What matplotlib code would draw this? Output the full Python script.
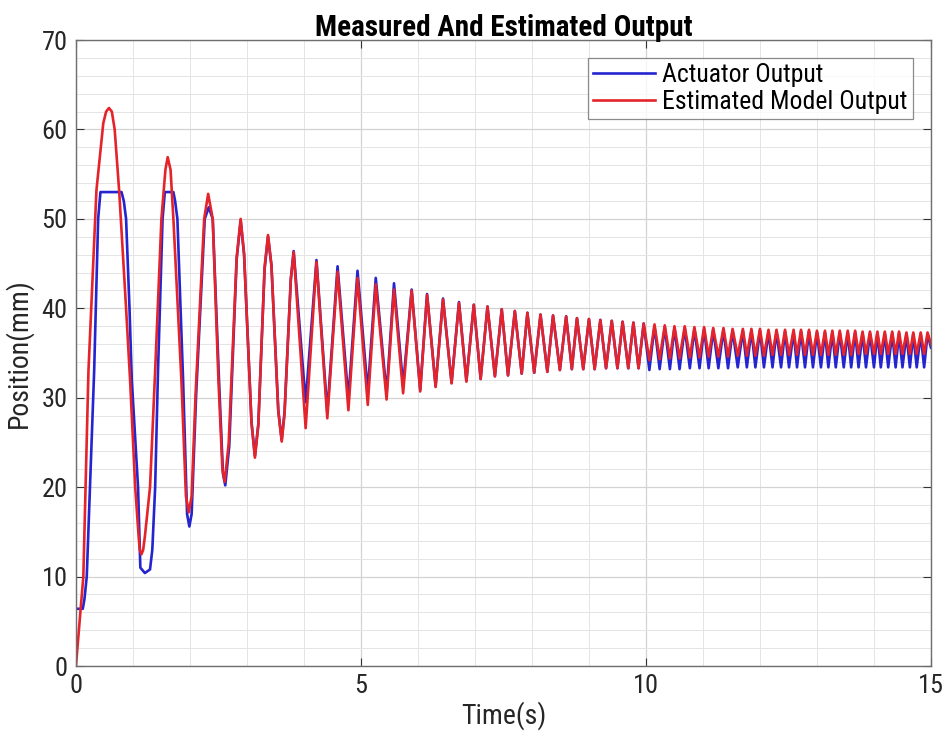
import numpy as np
import matplotlib
matplotlib.use('Agg')
import matplotlib.pyplot as plt
from matplotlib.ticker import MultipleLocator

plt.rcParams['font.family'] = ['Roboto Condensed', 'Liberation Sans', 'DejaVu Sans']

# ===========================[Data]===========================

# first cycles, read point by point (time s, position mm)
red_early_t = [0.00, 0.13, 0.22, 0.36, 0.48, 0.53, 0.58, 0.63, 0.68, 0.76, 0.88, 0.95, 1.04, 1.10,
               1.12, 1.15, 1.18, 1.21, 1.30, 1.39, 1.50, 1.57, 1.61, 1.66, 1.71, 1.85, 1.93, 1.98,
               2.03, 2.10, 2.25, 2.32, 2.40, 2.50, 2.57, 2.61, 2.68, 2.82, 2.89, 2.95, 3.08, 3.14,
               3.20, 3.31, 3.37, 3.43, 3.55, 3.61, 3.66, 3.77, 3.82]
red_early_v = [0.0, 10.0, 33.0, 53.2, 60.7, 62.0, 62.4, 62.0, 60.0, 53.0, 40.0, 32.0, 20.0, 14.5,
               13.0, 12.5, 13.0, 14.5, 20.0, 33.0, 50.0, 55.5, 56.9, 55.5, 50.0, 32.0, 19.0, 17.2,
               19.0, 30.5, 50.0, 52.8, 50.0, 32.0, 22.0, 20.6, 24.9, 45.7, 50.0, 46.1, 27.2, 23.3,
               26.9, 44.6, 48.2, 44.8, 28.5, 25.1, 28.2, 43.2, 46.3]

blue_early_t = [0.00, 0.12, 0.15, 0.19, 0.32, 0.39, 0.43, 0.80, 0.84, 0.88, 0.94, 0.98, 1.09, 1.13,
                1.21, 1.30, 1.34, 1.39, 1.44, 1.52, 1.56, 1.71, 1.74, 1.78, 1.88, 1.95, 1.99, 2.03,
                2.11, 2.26, 2.33, 2.40, 2.51, 2.58, 2.62, 2.69, 2.82, 2.89, 2.95, 3.08, 3.14, 3.20,
                3.31, 3.37, 3.43, 3.55, 3.61, 3.66, 3.77, 3.82]
blue_early_v = [6.4, 6.4, 7.5, 10.0, 33.0, 50.0, 53.0, 53.0, 52.0, 50.0, 40.0, 32.0, 20.0, 11.0,
                10.4, 10.8, 13.0, 20.0, 33.0, 50.0, 53.0, 53.0, 52.0, 50.0, 32.0, 17.0, 15.6, 17.0,
                30.5, 50.0, 51.3, 50.0, 32.0, 21.5, 20.2, 24.6, 45.5, 49.8, 46.0, 27.3, 23.5, 27.1,
                44.4, 48.0, 44.8, 28.6, 25.3, 28.4, 43.3, 46.4]

# turning points from 4.0 s to 8.6 s (trough, peak, trough, ...)
mid_t = [4.03, 4.22, 4.41, 4.59, 4.78, 4.94, 5.12, 5.26, 5.45,
         5.58, 5.74, 5.89, 6.04, 6.16, 6.31, 6.44, 6.59, 6.72, 6.85, 6.98, 7.10, 7.22, 7.35,
         7.47, 7.58, 7.70, 7.82, 7.92, 8.04, 8.15, 8.27, 8.37, 8.49, 8.60]
red_mid = [26.6, 45.2, 27.7, 44.1, 28.6, 43.4, 29.2, 42.7, 29.8,
           42.1, 30.5, 42.0, 30.7, 41.5, 31.2, 41.0, 31.6, 40.6, 31.8, 40.4, 32.1, 40.2, 32.4,
           39.9, 32.5, 39.7, 32.7, 39.5, 32.8, 39.3, 32.9, 39.2, 33.1, 39.1]
blue_mid = [29.5, 45.4, 28.4, 44.7, 29.9, 44.2, 30.7, 43.4, 30.5,
            42.8, 31.4, 42.1, 30.9, 41.6, 31.3, 41.1, 31.7, 40.7, 31.9, 40.4, 32.1, 40.2, 32.4,
            39.9, 32.5, 39.7, 32.7, 39.5, 32.8, 39.3, 32.9, 39.2, 33.1, 39.1]

# turning points from 8.7 s to the end
late_trough_t = [8.70, 8.90, 9.10, 9.30, 9.50, 9.69, 9.87, 10.06, 10.24, 10.42,
                 10.59, 10.77, 10.94, 11.10, 11.27, 11.44, 11.61, 11.77, 11.92, 12.07,
                 12.22, 12.37, 12.51, 12.65, 12.79, 12.93, 13.07, 13.20, 13.33, 13.47,
                 13.60, 13.73, 13.86, 14.00, 14.12, 14.25, 14.38, 14.50, 14.63, 14.75, 14.88]
late_peak_t = [8.79, 9.00, 9.20, 9.40, 9.59, 9.78, 9.96, 10.15, 10.33, 10.50,
               10.68, 10.85, 11.02, 11.18, 11.36, 11.52, 11.70, 11.85, 12.00, 12.15,
               12.29, 12.44, 12.59, 12.72, 12.86, 13.00, 13.14, 13.27, 13.40, 13.54,
               13.67, 13.80, 13.93, 14.06, 14.19, 14.32, 14.44, 14.57, 14.69, 14.82, 14.94]
red_late_trough = [33.2, 33.2, 33.2, 33.3, 33.3, 33.3, 33.3, 34.2, 34.3, 34.4,
                   34.4, 34.5, 34.5, 34.6, 34.6, 34.6, 34.7, 34.7, 34.7, 34.7,
                   34.8, 34.8, 34.8, 34.8, 34.8, 34.8, 34.8, 34.8, 34.8, 34.8,
                   34.8, 34.9, 34.9, 34.9, 34.9, 34.9, 34.9, 34.9, 34.9, 34.9, 34.9]
red_late_peak = [38.9, 38.8, 38.7, 38.6, 38.5, 38.4, 38.3, 38.2, 38.1, 38.0,
                 38.0, 37.9, 37.9, 37.8, 37.8, 37.7, 37.7, 37.7, 37.7, 37.6,
                 37.6, 37.6, 37.6, 37.6, 37.6, 37.5, 37.5, 37.5, 37.5, 37.5,
                 37.5, 37.4, 37.4, 37.4, 37.4, 37.4, 37.4, 37.3, 37.3, 37.3, 37.3]
blue_late_trough = [33.2, 33.2, 33.2, 33.3, 33.3, 33.3, 33.3, 33.1, 33.2, 33.2,
                    33.2, 33.3, 33.3, 33.3, 33.3, 33.3, 33.4, 33.4, 33.4, 33.4,
                    33.4, 33.4, 33.4, 33.4, 33.4, 33.4, 33.4, 33.4, 33.4, 33.4,
                    33.4, 33.4, 33.4, 33.4, 33.4, 33.4, 33.4, 33.4, 33.4, 33.4, 33.4]
blue_late_peak = [38.9, 38.8, 38.7, 38.6, 38.5, 38.4, 38.3, 38.0, 37.9, 37.8,
                  37.8, 37.7, 37.7, 37.6, 37.6, 37.5, 37.5, 37.5, 37.5, 37.4,
                  37.4, 37.4, 37.4, 37.4, 37.4, 37.3, 37.3, 37.3, 37.3, 37.3,
                  37.3, 37.2, 37.2, 37.2, 37.2, 37.2, 37.2, 37.1, 37.1, 37.1, 37.1]
end_t = 15.0
red_end = 36.0
blue_end = 35.6


def join(early_t, early_v, mid_v, trough_v, peak_v, last_v):
    t = list(early_t) + list(mid_t)
    v = list(early_v) + list(mid_v)
    for tt, tv, pt, pv in zip(late_trough_t, trough_v, late_peak_t, peak_v):
        t += [tt, pt]
        v += [tv, pv]
    t.append(end_t)
    v.append(last_v)
    return np.array(t), np.array(v)


t_blue, y_blue = join(blue_early_t, blue_early_v, blue_mid, blue_late_trough, blue_late_peak, blue_end)
t_red, y_red = join(red_early_t, red_early_v, red_mid, red_late_trough, red_late_peak, red_end)

# ====================================[Plot]======================================

fig = plt.figure(figsize=(9.49, 7.43), dpi=100)
ax = fig.add_axes([0.080, 0.1036, 0.901, 0.8425])

ax.plot(t_blue, y_blue, color='#2424d0', lw=1.9, label='Actuator Output')
ax.plot(t_red, y_red, color='#e5232a', lw=1.9, label='Estimated Model Output')

ax.set_xlim(0, 15)
ax.set_ylim(0, 70)
ax.xaxis.set_major_locator(MultipleLocator(5))
ax.xaxis.set_minor_locator(MultipleLocator(1))
ax.yaxis.set_major_locator(MultipleLocator(10))
ax.yaxis.set_minor_locator(MultipleLocator(2))
ax.grid(True, which='major', color='#d2d2d2', lw=0.9)
ax.grid(True, which='minor', color='#e4e4e4', lw=0.7)
ax.set_axisbelow(True)
ax.tick_params(which='major', direction='in', length=6, top=True, right=True,
               labelsize=19, colors='#333333', labelcolor='#262626', pad=6)
ax.tick_params(which='minor', length=0)
for s in ax.spines.values():
    s.set_color('#6e6e6e')
    s.set_linewidth(1.0)

ax.set_xlabel('Time(s)', fontsize=20, color='#262626', labelpad=2)
ax.set_ylabel('Position(mm)', fontsize=20, color='#262626', labelpad=6)
ax.set_title('Measured And Estimated Output', fontsize=21, fontweight='bold', pad=3)

leg = ax.legend(loc='upper right', fontsize=18.5, frameon=True, fancybox=False,
                edgecolor='#6e6e6e', borderpad=0.2, handlelength=2.4, handletextpad=0.3,
                labelspacing=0.1, borderaxespad=0.7)
leg.get_frame().set_linewidth(0.9)

fig.savefig('out.png', dpi=100)
